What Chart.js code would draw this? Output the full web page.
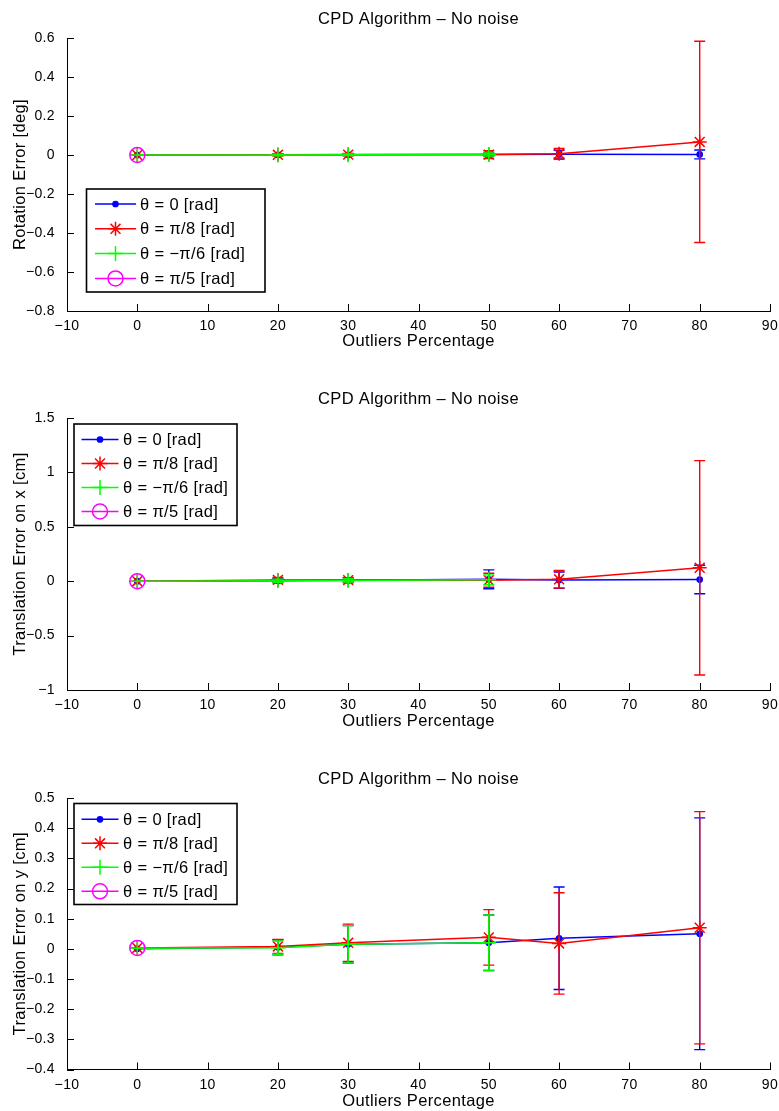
<!DOCTYPE html>
<html>
<head>
<meta charset="utf-8">
<script src="https://cdn.jsdelivr.net/npm/chart.js@4.4.1/dist/chart.umd.min.js"></script>
<style>
  html, body { margin: 0; padding: 0; background: #fff; }
  body { width: 779px; height: 1111px; position: relative; overflow: hidden; }
  canvas { position: absolute; left: 0; }
</style>
</head>
<body>
<canvas id="rot" width="779" height="351" style="top:0px"></canvas>
<canvas id="tx" width="779" height="351" style="top:380px"></canvas>
<canvas id="ty" width="779" height="351" style="top:760px"></canvas>
<script>
// Shared x values and labels
const OUTLIERS = [0, 20, 30, 50, 60, 80];
const X_TICKS = [-10, 0, 10, 20, 30, 40, 50, 60, 70, 80, 90];
const SERIES_LABELS = ['θ = 0 [rad]', 'θ = π/8 [rad]', 'θ = −π/6 [rad]', 'θ = π/5 [rad]'];
const TITLE = 'CPD Algorithm – No noise';
const X_TITLE = 'Outliers Percentage';

// Rotation error [deg]
const ROT_TICKS = [-0.8, -0.6, -0.4, -0.2, 0, 0.2, 0.4, 0.6];
const ROT_T0 = [0, 0.001, 0.001, 0.002, 0.004, 0.003];
const ROT_T0_ERR = [0, 0.004, 0.004, 0.008, 0.02, 0.023];
const ROT_PI8 = [0, 0.001, 0.002, 0.002, 0.006, 0.067];
const ROT_PI8_ERR = [0, 0.006, 0.006, 0.02, 0.028, 0.516];
const ROT_MPI6 = [0, 0, 0.001, 0.002];
const ROT_MPI6_ERR = [0, 0.004, 0.004, 0.008];
const ROT_PI5 = [0];
const ROT_PI5_ERR = [0];

// Translation error on x [cm]
const TX_TICKS = [-1, -0.5, 0, 0.5, 1, 1.5];
const TX_T0 = [0, 0.005, 0.008, 0.017, 0.01, 0.015];
const TX_T0_ERR = [0, 0.02, 0.02, 0.087, 0.075, 0.131];
const TX_PI8 = [0, 0.012, 0.01, 0.009, 0.017, 0.123];
const TX_PI8_ERR = [0, 0.022, 0.022, 0.064, 0.081, 0.985];
const TX_MPI6 = [0, 0.004, 0.007, 0.013];
const TX_MPI6_ERR = [0, 0.015, 0.015, 0.045];
const TX_PI5 = [0];
const TX_PI5_ERR = [0];

// Translation error on y [cm]
const TY_TICKS = [-0.4, -0.3, -0.2, -0.1, 0, 0.1, 0.2, 0.3, 0.4, 0.5];
const TY_T0 = [0, 0.005, 0.015, 0.02, 0.035, 0.05];
const TY_T0_ERR = [0, 0.025, 0.062, 0.092, 0.17, 0.384];
const TY_PI8 = [0.003, 0.008, 0.02, 0.038, 0.018, 0.07];
const TY_PI8_ERR = [0, 0.023, 0.062, 0.092, 0.168, 0.385];
const TY_MPI6 = [0.002, 0.004, 0.015, 0.02];
const TY_MPI6_ERR = [0, 0.022, 0.062, 0.092];
const TY_PI5 = [0.003];
const TY_PI5_ERR = [0];

// Line/marker styles per series (blue dot, red asterisk, green plus, magenta circle)
const STYLES = [
  { color: '#0000ff', pointStyle: 'circle', radius: 2.6, fill: '#0000ff', order: 4 },
  { color: '#ff0000', pointStyle: 'star',   radius: 7,   fill: 'rgba(0,0,0,0)', order: 3 },
  { color: '#00ff00', pointStyle: 'cross',  radius: 7.5, fill: 'rgba(0,0,0,0)', order: 2 },
  { color: '#ff00ff', pointStyle: 'circle', radius: 7.5, fill: 'rgba(0,0,0,0)', order: 1 }
];
const LINE_W = 1.5;

const FONT_FAMILY = '"Liberation Sans", Arial, Helvetica, sans-serif';
const LETTER_SPACING = '0.35px';
Chart.defaults.font.family = FONT_FAMILY;
Chart.defaults.color = '#000';

const fmt = v => String(v).replace('-', '\u2212');

// Slightly widened lettering for all canvas text
const spacingPlugin = {
  id: 'spacing',
  beforeUpdate(chart) { chart.ctx.letterSpacing = LETTER_SPACING; },
  beforeDraw(chart) { chart.ctx.letterSpacing = LETTER_SPACING; }
};

// Vertical error bars with caps, drawn just before each series' line
const errorBarPlugin = {
  id: 'errorBars',
  beforeDatasetDraw(chart, args) {
    const ds = chart.data.datasets[args.index];
    if (!ds.errors) return;
    const { ctx } = chart;
    const xs = chart.scales.x, ys = chart.scales.y;
    const cap = 5.5;
    ctx.save();
    ctx.strokeStyle = ds.borderColor;
    ctx.lineWidth = 1.4;
    ds.data.forEach((p, i) => {
      const e = ds.errors[i];
      if (!e) return;
      const px = xs.getPixelForValue(p.x);
      const top = ys.getPixelForValue(p.y + e);
      const bot = ys.getPixelForValue(p.y - e);
      ctx.beginPath();
      ctx.moveTo(px, top); ctx.lineTo(px, bot);
      ctx.moveTo(px - cap, top); ctx.lineTo(px + cap, top);
      ctx.moveTo(px - cap, bot); ctx.lineTo(px + cap, bot);
      ctx.stroke();
    });
    ctx.restore();
  }
};

// Inward tick marks on the left and bottom axes
const innerTicksPlugin = {
  id: 'innerTicks',
  beforeDatasetsDraw(chart) {
    const { ctx, chartArea: a } = chart;
    const xs = chart.scales.x, ys = chart.scales.y;
    ctx.save();
    ctx.strokeStyle = '#000';
    ctx.lineWidth = 1;
    ctx.beginPath();
    xs.ticks.forEach(t => {
      const px = Math.round(xs.getPixelForValue(t.value)) + 0.5;
      ctx.moveTo(px, a.bottom); ctx.lineTo(px, a.bottom - 7);
    });
    ys.ticks.forEach(t => {
      const py = Math.round(ys.getPixelForValue(t.value)) + 0.5;
      ctx.moveTo(a.left, py); ctx.lineTo(a.left + 7, py);
    });
    ctx.stroke();
    ctx.restore();
  }
};

// Boxed legend placed inside the plot area
const boxLegendPlugin = {
  id: 'boxLegend',
  afterDraw(chart, args, opts) {
    const { ctx } = chart;
    ctx.save();
    ctx.letterSpacing = LETTER_SPACING;
    ctx.fillStyle = '#fff';
    ctx.fillRect(opts.x, opts.y, opts.w, opts.h);
    ctx.strokeStyle = '#000';
    ctx.lineWidth = 1.6;
    ctx.strokeRect(opts.x, opts.y, opts.w, opts.h);
    chart.data.datasets.forEach((ds, i) => {
      const st = STYLES[i];
      const y = opts.row0 + i * opts.rowGap;
      ctx.strokeStyle = st.color;
      ctx.lineWidth = LINE_W;
      ctx.beginPath();
      ctx.moveTo(opts.line0, y); ctx.lineTo(opts.line1, y);
      ctx.stroke();
      ctx.fillStyle = st.fill;
      Chart.helpers.drawPoint(ctx, {
        pointStyle: st.pointStyle, rotation: 0, radius: st.radius, borderWidth: LINE_W
      }, (opts.line0 + opts.line1) / 2, y);
      ctx.fillStyle = '#000';
      ctx.font = '16.5px ' + FONT_FAMILY;
      ctx.textBaseline = 'middle';
      ctx.textAlign = 'left';
      ctx.fillText(ds.label, opts.textX, y + 1);
    });
    ctx.restore();
  }
};

function makeChart(id, yTitle, yTicks, series, legendBox, xHeight) {
  const datasets = series.map((s, i) => {
    const st = STYLES[i];
    return {
      label: SERIES_LABELS[i],
      data: s.values.map((v, k) => ({ x: OUTLIERS[k], y: v })),
      errors: s.errors,
      borderColor: st.color,
      backgroundColor: st.color,
      borderWidth: LINE_W,
      pointStyle: st.pointStyle,
      pointRadius: st.radius,
      pointBorderColor: st.color,
      pointBackgroundColor: st.fill,
      pointBorderWidth: LINE_W,
      tension: 0,
      fill: false,
      order: st.order
    };
  });
  return new Chart(document.getElementById(id), {
    type: 'line',
    data: { datasets },
    options: {
      responsive: false,
      animation: false,
      events: [],
      layout: { padding: { left: 0, right: 9, top: 0, bottom: 0 } },
      plugins: {
        legend: { display: false },
        tooltip: { enabled: false },
        title: {
          display: true, text: TITLE, fullSize: false, color: '#000',
          font: { size: 16.5, weight: 'normal' },
          padding: { top: 10, bottom: 8.2 }
        },
        boxLegend: legendBox
      },
      scales: {
        x: {
          type: 'linear', min: -10, max: 90,
          afterBuildTicks: s => { s.ticks = X_TICKS.map(v => ({ value: v })); },
          afterFit: s => { s.height = xHeight; },
          grid: { display: false },
          border: { display: true, color: '#000', width: 1 },
          ticks: { autoSkip: false, maxRotation: 0, padding: -1, font: { size: 14 }, color: '#000', callback: v => fmt(v) },
          title: { display: true, text: X_TITLE, color: '#000', font: { size: 16.5 }, padding: { top: 0, bottom: 0 } }
        },
        y: {
          type: 'linear', min: yTicks[0], max: yTicks[yTicks.length - 1],
          afterBuildTicks: s => { s.ticks = yTicks.map(v => ({ value: v })); },
          afterFit: s => { s.width = 67; },
          grid: { display: false },
          border: { display: true, color: '#000', width: 1 },
          ticks: { autoSkip: false, padding: 4, font: { size: 14 }, color: '#000', callback: v => fmt(v) },
          title: { display: true, text: yTitle, color: '#000', font: { size: 16.5 }, padding: { top: 11, bottom: 0 } }
        }
      }
    },
    plugins: [spacingPlugin, errorBarPlugin, innerTicksPlugin, boxLegendPlugin]
  });
}

makeChart('rot', 'Rotation Error [deg]', ROT_TICKS, [
  { values: ROT_T0, errors: ROT_T0_ERR },
  { values: ROT_PI8, errors: ROT_PI8_ERR },
  { values: ROT_MPI6, errors: ROT_MPI6_ERR },
  { values: ROT_PI5, errors: ROT_PI5_ERR }
], { x: 86.5, y: 189, w: 178.5, h: 103, row0: 204, rowGap: 24.8, line0: 95, line1: 136, textX: 140 }, 40);

makeChart('tx', 'Translation Error on x [cm]', TX_TICKS, [
  { values: TX_T0, errors: TX_T0_ERR },
  { values: TX_PI8, errors: TX_PI8_ERR },
  { values: TX_MPI6, errors: TX_MPI6_ERR },
  { values: TX_PI5, errors: TX_PI5_ERR }
], { x: 74, y: 44, w: 163, h: 101.5, row0: 59.5, rowGap: 24, line0: 81.5, line1: 118.5, textX: 123 }, 41);

makeChart('ty', 'Translation Error on y [cm]', TY_TICKS, [
  { values: TY_T0, errors: TY_T0_ERR },
  { values: TY_PI8, errors: TY_PI8_ERR },
  { values: TY_MPI6, errors: TY_MPI6_ERR },
  { values: TY_PI5, errors: TY_PI5_ERR }
], { x: 74, y: 43.5, w: 163, h: 101, row0: 59.3, rowGap: 24, line0: 81.5, line1: 118.5, textX: 123 }, 41.5);
</script>
</body>
</html>
